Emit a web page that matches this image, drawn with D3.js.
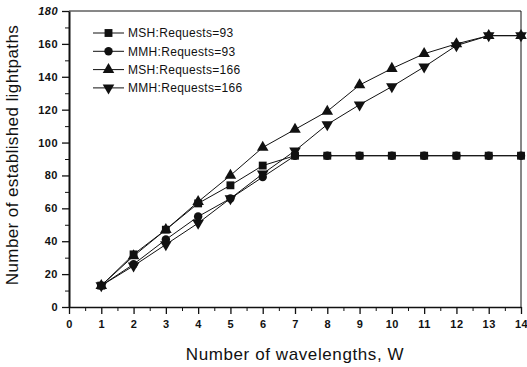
<!DOCTYPE html>
<html>
<head>
<meta charset="utf-8">
<script src="https://cdn.jsdelivr.net/npm/d3@7"></script>
<style>
  body { margin: 0; background: #fff; }
  svg { display: block; }
</style>
</head>
<body>
<div id="chart"></div>
<script>
// values
const wavelengths = [1, 2, 3, 4, 5, 6, 7, 8, 9, 10, 11, 12, 13, 14];
const msh93  = [13, 32, 47, 63, 74, 86, 92, 92, 92, 92, 92, 92, 92, 92];
const mmh93  = [13, 26, 41, 55, 66, 79, 92, 92, 92, 92, 92, 92, 92, 92];
const msh166 = [13, 31, 47, 64, 80, 97, 108, 119, 135, 145, 154, 160, 165, 165];
const mmh166 = [13, 25, 38, 51, 66, 81, 95, 111, 123, 134, 146, 159, 165, 165];
const seriesNames = ["MSH:Requests=93", "MMH:Requests=93", "MSH:Requests=166", "MMH:Requests=166"];
const xTicks = d3.range(0, 15);
const yTicks = d3.range(0, 181, 20);

const W = 527, H = 367;
const margin = {top: 11, right: 6, bottom: 60, left: 69},
    width = W - margin.left - margin.right,
    height = H - margin.top - margin.bottom;

const svg = d3.select("#chart")
  .append("svg")
    .attr("width", W)
    .attr("height", H)
  .append("g")
    .attr("transform", "translate(" + margin.left + "," + margin.top + ")");

const x = d3.scaleLinear().domain([0, 14]).range([0, width]);
const y = d3.scaleLinear().domain([0, 180]).range([height, 0]);

const ink = "#111";
const tickFont = "'Liberation Sans Narrow', 'Liberation Sans', Arial, sans-serif";
const textFont = "'Liberation Sans', Arial, sans-serif";

// frame (top + right)
svg.append("path")
  .attr("d", "M0,0H" + width + "V" + height)
  .attr("fill", "none").attr("stroke", ink).attr("stroke-width", 1);

// minor ticks
svg.append("g")
  .attr("transform", "translate(0," + height + ")")
  .call(d3.axisBottom(x).tickValues(d3.range(0.5, 14, 1)).tickSize(4).tickFormat(""))
  .call(g => g.select(".domain").remove())
  .call(g => g.selectAll("line").attr("stroke", ink));
svg.append("g")
  .call(d3.axisLeft(y).tickValues(d3.range(10, 180, 20)).tickSize(4).tickFormat(""))
  .call(g => g.select(".domain").remove())
  .call(g => g.selectAll("line").attr("stroke", ink));

// X axis
svg.append("g")
  .attr("transform", "translate(0," + height + ")")
  .call(d3.axisBottom(x).tickValues(xTicks).tickSize(7).tickSizeOuter(0).tickPadding(6))
  .call(g => g.select(".domain").attr("stroke", ink).attr("stroke-width", 1.6))
  .call(g => g.selectAll("line").attr("stroke", ink).attr("stroke-width", 1.3))
  .call(g => g.selectAll("text")
      .attr("fill", ink)
      .style("font-family", tickFont)
      .style("font-weight", "bold")
      .style("font-size", "11px")
      .style("letter-spacing", "0.5px"));

// Y axis
svg.append("g")
  .call(d3.axisLeft(y).tickValues(yTicks).tickSize(7).tickSizeOuter(0).tickPadding(4))
  .call(g => g.select(".domain").attr("stroke", ink).attr("stroke-width", 2))
  .call(g => g.selectAll("line").attr("stroke", ink).attr("stroke-width", 1.3))
  .call(g => g.selectAll("text")
      .attr("fill", ink)
      .style("font-family", tickFont)
      .style("font-weight", "bold")
      .style("font-size", "11px")
      .style("letter-spacing", "0.5px")
      .style("font-style", d => d === 180 ? "italic" : "normal"));

// axis titles
svg.append("text")
  .attr("x", width / 2)
  .attr("y", height + 53)
  .attr("text-anchor", "middle")
  .attr("fill", ink)
  .style("font-family", textFont)
  .style("font-size", "17px")
  .style("letter-spacing", "0.6px")
  .text("Number of wavelengths, W");

svg.append("text")
  .attr("transform", "translate(" + (-51) + "," + (height / 2 - 4) + ") rotate(-90)")
  .attr("text-anchor", "middle")
  .attr("fill", ink)
  .style("font-family", textFont)
  .style("font-size", "17px")
  .style("letter-spacing", "0.4px")
  .text("Number of established lightpaths");

// series
const symSquare = d3.symbol().type(d3.symbolSquare).size(62)();
const symCircle = d3.symbol().type(d3.symbolCircle).size(56)();
const symTri = d3.symbol().type(d3.symbolTriangle).size(58)();

const series = [
  {name: seriesNames[3], values: mmh166, shape: symTri, rot: 180},
  {name: seriesNames[2], values: msh166, shape: symTri, rot: 0},
  {name: seriesNames[1], values: mmh93, shape: symCircle, rot: 0},
  {name: seriesNames[0], values: msh93, shape: symSquare, rot: 0}
];

const line = d3.line()
  .x((d, i) => x(wavelengths[i]))
  .y(d => y(d));

series.forEach(s => {
  svg.append("path")
    .datum(s.values)
    .attr("fill", "none")
    .attr("stroke", ink)
    .attr("stroke-width", 1)
    .attr("d", line);
});
series.forEach(s => {
  svg.append("g").selectAll("path")
    .data(s.values)
    .join("path")
      .attr("d", s.shape)
      .attr("fill", ink)
      .attr("transform", (d, i) => "translate(" + x(wavelengths[i]) + "," + y(d) + ") rotate(" + s.rot + ")");
});

// legend
const legendOrder = [series[3], series[2], series[1], series[0]];
const legend = svg.append("g").attr("transform", "translate(24,22)");
legendOrder.forEach((s, i) => {
  const row = legend.append("g").attr("transform", "translate(0," + (i * 18.3) + ")");
  row.append("line")
    .attr("x1", 0).attr("x2", 31)
    .attr("stroke", ink).attr("stroke-width", 1);
  row.append("path")
    .attr("d", s.shape)
    .attr("fill", ink)
    .attr("transform", "translate(15.5,0) rotate(" + s.rot + ")");
  row.append("text")
    .attr("x", 35)
    .attr("dy", "0.36em")
    .attr("fill", ink)
    .style("font-family", textFont)
    .style("font-size", "12px")
    .style("letter-spacing", "0.3px")
    .text(s.name);
});
</script>
</body>
</html>
